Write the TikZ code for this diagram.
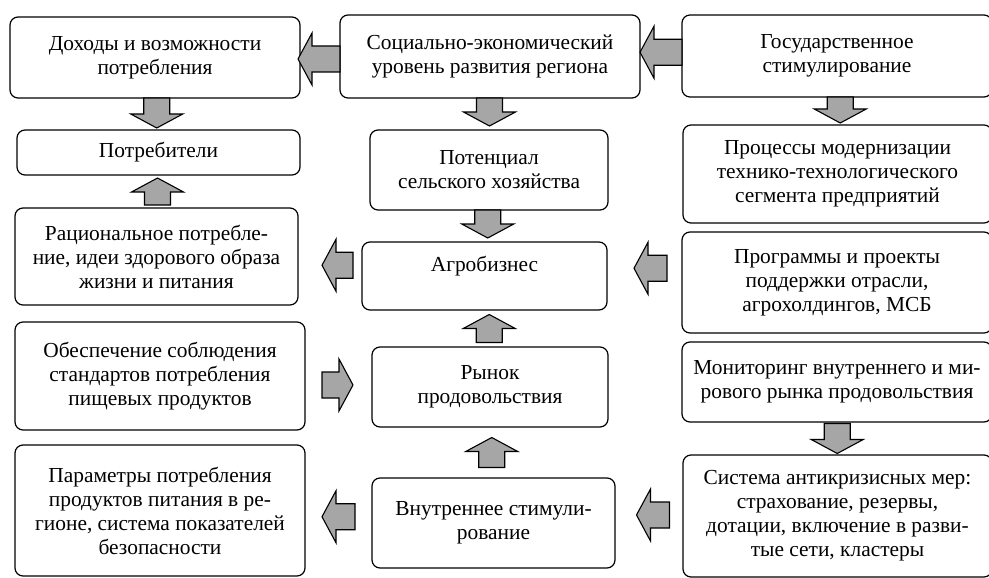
\documentclass[tikz,border=0pt]{standalone}
\usepackage{fontspec}
\newfontfamily\cyrserif[Script=Cyrillic]{Liberation Serif}
\usetikzlibrary{calc}
\definecolor{arrgray}{RGB}{166,166,166}
\tikzset{
  box/.style={draw, line width=1.2pt, rounded corners=8pt, align=center, inner sep=0pt,
    font=\cyrserif\fontsize{21.4}{24}\selectfont},
  arrowsty/.style={draw, line width=1.1pt, fill=arrgray, line join=miter},
  pics/rarr/.style={code={\draw[arrowsty] ({-#1/2},-13) -- ({#1/2-14},-13) -- ({#1/2-14},-26) -- ({#1/2},0) -- ({#1/2-14},26) -- ({#1/2-14},13) -- ({-#1/2},13) -- cycle;}},
  pics/larr/.style={code={\draw[arrowsty] ({#1/2},-13) -- ({-#1/2+14},-13) -- ({-#1/2+14},-26) -- ({-#1/2},0) -- ({-#1/2+14},26) -- ({-#1/2+14},13) -- ({#1/2},13) -- cycle;}},
  pics/darr/.style={code={\draw[arrowsty] (-13,{-#1/2}) -- (-13,{#1/2-14}) -- (-26,{#1/2-14}) -- (0,{#1/2}) -- (26,{#1/2-14}) -- (13,{#1/2-14}) -- (13,{-#1/2}) -- cycle;}},
  pics/uarr/.style={code={\draw[arrowsty] (-13,{#1/2}) -- (-13,{-#1/2+14}) -- (-26,{-#1/2+14}) -- (0,{-#1/2}) -- (26,{-#1/2+14}) -- (13,{-#1/2+14}) -- (13,{#1/2}) -- cycle;}},
}
\begin{document}
\begin{tikzpicture}[x=1pt,y=-1pt]
\useasboundingbox (0,0) rectangle (989,578);
% left column
\node[box, minimum width=290pt, minimum height=81pt] (L1) at (155,57.5) {Доходы и возможности\\потребления};
\node[box, minimum width=283pt, minimum height=45pt] (L2) at (158.5,152.5) {Потребители};
\node[box, minimum width=283pt, minimum height=97pt] (L3) at (156.5,256.5) {Рациональное потребле-\\ние, идеи здорового образа\\жизни и питания};
\node[box, minimum width=290pt, minimum height=108pt] (L4) at (160,376) {Обеспечение соблюдения\\стандартов потребления\\пищевых продуктов};
\node[box, minimum width=290pt, minimum height=131pt] (L5) at (160,510.5) {Параметры потребления\\продуктов питания в ре-\\гионе, система показателей\\безопасности};
% middle column
\node[box, minimum width=300pt, minimum height=83pt] (M1) at (490,56.5) {Социально-экономический\\уровень развития региона};
\node[box, minimum width=238pt, minimum height=80pt] (M2) at (489,170) {Потенциал\\сельского хозяйства};
\node[box, minimum width=245pt, minimum height=68pt] (M3) at (484.5,276) {Агробизнес\\\mbox{}};
\node[box, minimum width=236pt, minimum height=80pt] (M4) at (490,387) {Рынок\\продовольствия};
\node[box, minimum width=243pt, minimum height=90pt] (M5) at (493.5,523) {Внутреннее стимули-\\рование};
% right column
\node[box, minimum width=310pt, minimum height=82pt] (R1) at (837,56) {Государственное\\стимулирование};
\node[box, minimum width=309pt, minimum height=98pt] (R2) at (837.5,174) {Процессы модернизации\\технико-технологического\\сегмента предприятий};
\node[box, minimum width=310pt, minimum height=101pt] (R3) at (837,282.5) {Программы и проекты\\поддержки отрасли,\\агрохолдингов, МСБ};
\node[box, minimum width=310pt, minimum height=80pt] (R4) at (837,382) {Мониторинг внутреннего и ми-\\рового рынка продовольствия};
\node[box, minimum width=309pt, minimum height=122pt] (R5) at (837.5,516) {Система антикризисных мер:\\страхование, резервы,\\дотации, включение в разви-\\тые сети, кластеры};
% block arrows
\pic at ($(L1.east)!0.5!(M1.west)+(-1,2)$) {larr=42};
\pic at ($(R1.west)!0.5!(M1.east)+(0,-4)$) {larr=42};
\pic at ($(L1.south)!0.5!(L2.north)+(0,-1)$) {darr=30};
\pic at ($(M1.south)!0.5!(M2.north)+(0,-2)$) {darr=28};
\pic at ($(R1.south)!0.5!(R2.north)+(3,-1)$) {darr=26};
\pic at ($(L2.south)!0.5!(L3.north)$) {uarr=27};
\pic at ($(M2.south)!0.5!(M3.north)+(1,-2)$) {darr=28};
\pic at ($(M3.west)!0.5!(L3.east)+(7.5,-1)$) {larr=31};
\pic at ($(R3.west)!0.5!(M3.east)+(6,-11)$) {larr=33};
\pic at ($(M4.north)!0.5!(M3.south)+(2,0)$) {uarr=28};
\pic at ($(L4.east)!0.5!(M4.west)+(-1,3.5)$) {rarr=31};
\pic at ($(R4.south)!0.5!(R5.north)$) {darr=30};
\pic at ($(M5.north)!0.5!(M4.south)$) {uarr=30};
\pic at ($(M5.west)!0.5!(L5.east)$) {larr=33};
\pic at ($(R5.west)!0.5!(M5.east)+(4,-4.5)$) {larr=33};
\end{tikzpicture}
\end{document}
